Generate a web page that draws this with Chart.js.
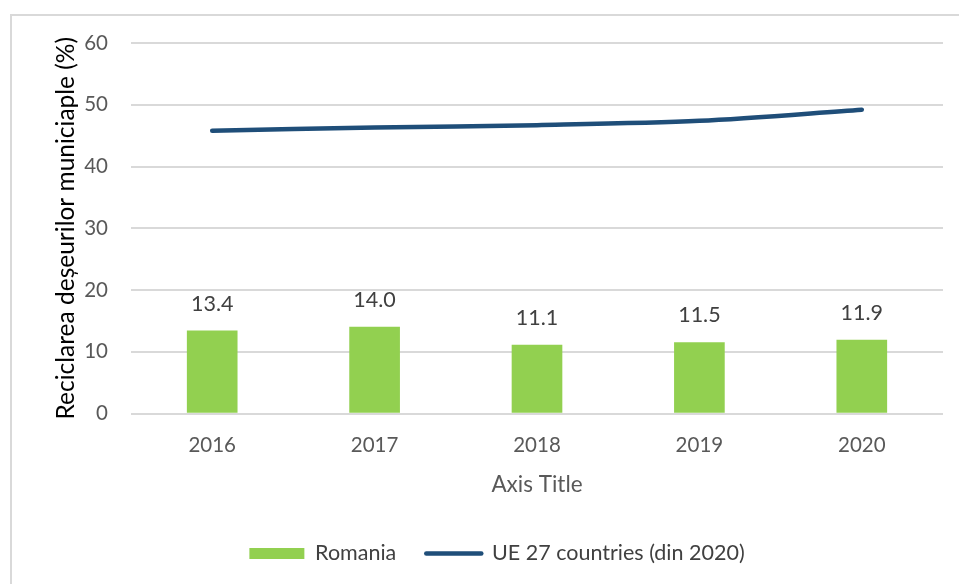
<!DOCTYPE html>
<html>
<head>
<meta charset="utf-8">
<script src="https://cdn.jsdelivr.net/npm/chart.js@4/dist/chart.umd.min.js"></script>
<style>
  html, body { margin: 0; padding: 0; background: #fff; overflow: hidden; }
  #frame { position: absolute; left: 10px; top: 14px; width: 960px; height: 600px; border: 2px solid #d9d9d9; }
  #wrap { position: absolute; left: 0; top: 0; width: 947px; height: 576px; }
</style>
</head>
<body>
<div id="frame"><div id="wrap"><canvas id="grafic"></canvas></div></div>
<script>
const ani = ["2016", "2017", "2018", "2019", "2020"];
const romania = [13.4, 14.0, 11.1, 11.5, 11.9];
const ue27 = [45.8, 46.3, 46.7, 47.4, 49.2];
const ticksY = [0, 10, 20, 30, 40, 50, 60];

const FONT = "Lato";

// etichete de valoare deasupra barelor
const eticheteBare = {
    id: "eticheteBare",
    afterDatasetsDraw(chart) {
        const ctx = chart.ctx;
        const meta = chart.getDatasetMeta(0);
        ctx.save();
        ctx.font = "21.5px " + FONT;
        ctx.fillStyle = "#404040";
        ctx.textAlign = "center";
        ctx.textBaseline = "alphabetic";
        meta.data.forEach((bar, i) => {
            ctx.fillText(romania[i].toFixed(1), bar.x, bar.y - 20);
        });
        ctx.restore();
    }
};

new Chart(document.getElementById("grafic"), {
    type: "bar",
    data: {
        labels: ani,
        datasets: [{
            label: "Romania",
            data: romania,
            backgroundColor: "#92d050",
            barThickness: 50
        }, {
            type: "line",
            label: "UE 27 countries (din 2020)",
            data: ue27,
            borderColor: "#1f4e79",
            backgroundColor: "#1f4e79",
            borderWidth: 4.5,
            borderCapStyle: "round",
            pointRadius: 0,
            tension: 0.3,
            fill: false
        }]
    },
    options: {
        responsive: true,
        maintainAspectRatio: false,
        animation: false,
        layout: { padding: { left: 39, right: 16, top: 27, bottom: 17.75 } },
        plugins: {
            tooltip: { enabled: false },
            legend: {
                position: "bottom",
                labels: {
                    font: { family: FONT, size: 21.5 },
                    color: "#404040",
                    padding: 30,
                    usePointStyle: true,
                    pointStyleWidth: 55,
                    boxHeight: 11,
                    generateLabels(chart) {
                        return chart.data.datasets.map((ds, i) => ({
                            text: ds.label,
                            datasetIndex: i,
                            fillStyle: ds.backgroundColor,
                            strokeStyle: i === 0 ? ds.backgroundColor : ds.borderColor,
                            lineWidth: i === 0 ? 0 : 4.5,
                            lineCap: "round",
                            pointStyle: i === 0 ? "rect" : "line",
                            fontColor: "#404040"
                        }));
                    }
                }
            }
        },
        scales: {
            x: {
                grid: { display: false, drawTicks: false },
                border: { display: false },
                ticks: { font: { family: FONT, size: 20.5 }, color: "#595959", padding: 20 },
                title: {
                    display: true,
                    text: "Axis Title",
                    font: { family: FONT, size: 22.5 },
                    color: "#595959",
                    padding: { top: 0, bottom: 14.25 }
                },
                afterFit(scale) { scale.height = 99.25; }
            },
            y: {
                min: 0,
                max: 60,
                afterBuildTicks(scale) { scale.ticks = ticksY.map(v => ({ value: v })); },
                grid: { color: "#d9d9d9", lineWidth: 2, drawTicks: false },
                border: { display: false },
                ticks: { font: { family: FONT, size: 20.5 }, color: "#595959", padding: 23 },
                title: {
                    display: true,
                    text: "Reciclarea deșeurilor municiaple (%)",
                    font: { family: FONT, size: 24.5 },
                    color: "#000000",
                    padding: { top: 0, bottom: 0 }
                },
                afterFit(scale) {
                    scale.width = 80;
                    scale.paddingTop = 0;
                    scale.paddingBottom = 0;
                }
            }
        }
    },
    plugins: [eticheteBare]
});
</script>
</body>
</html>
